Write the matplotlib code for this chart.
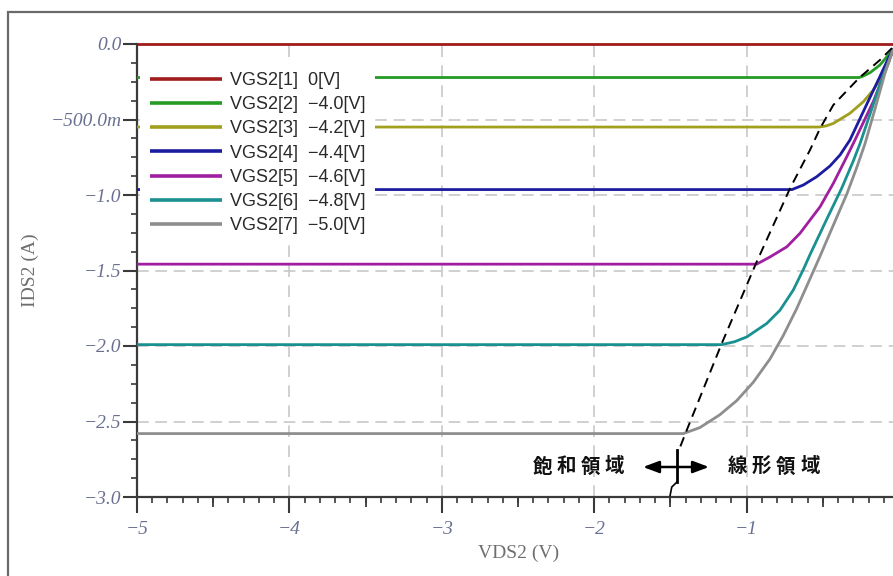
import numpy as np
import matplotlib
matplotlib.use('Agg')
import matplotlib.pyplot as plt
from matplotlib.ticker import MultipleLocator
from matplotlib.patches import Rectangle

# ---------------- data ----------------
labels = ["VGS2[1]  0[V]", "VGS2[2]  \u22124.0[V]", "VGS2[3]  \u22124.2[V]",
          "VGS2[4]  \u22124.4[V]", "VGS2[5]  \u22124.6[V]", "VGS2[6]  \u22124.8[V]",
          "VGS2[7]  \u22125.0[V]"]
colors = ["#a01c1c", "#259b25", "#a0a01e", "#1c1ca0", "#a01ea0", "#1a9090", "#8e8e8e"]

v1 = [-5.0, 0.0]
i1 = [0.0, 0.0]
v2 = [-5.0, -0.262, -0.234, -0.190, -0.125, -0.070, -0.040, 0.0]
i2 = [-0.222, -0.222, -0.212, -0.190, -0.139, -0.073, -0.040, 0.0]
v3 = [-5.0, -0.525, -0.480, -0.431, -0.322, -0.234, -0.169, -0.114, -0.070, -0.040, 0.0]
i3 = [-0.550, -0.550, -0.543, -0.526, -0.459, -0.382, -0.305, -0.217, -0.128, -0.040, 0.0]
v4 = [-5.0, -0.702, -0.628, -0.540, -0.453, -0.387, -0.322, -0.212, -0.125, -0.070, -0.040, 0.0]
i4 = [-0.964, -0.964, -0.934, -0.879, -0.808, -0.735, -0.636, -0.400, -0.215, -0.095, -0.040, 0.0]
v5 = [-5.0, -0.934, -0.846, -0.736, -0.650, -0.518, -0.431, -0.343, -0.289, -0.168, -0.102, -0.040, 0.0]
i5 = [-1.458, -1.458, -1.410, -1.343, -1.254, -1.078, -0.923, -0.747, -0.636, -0.380, -0.210, -0.040, 0.0]
v6 = [-5.0, -1.163, -1.080, -0.999, -0.868, -0.781, -0.694, -0.628, -0.584, -0.474, -0.376, -0.300,
      -0.256, -0.190, -0.125, -0.040, 0.0]
i6 = [-1.991, -1.991, -1.972, -1.940, -1.851, -1.763, -1.630, -1.494, -1.395, -1.160, -0.955, -0.775,
      -0.660, -0.464, -0.269, -0.040, 0.0]
v7 = [-5.0, -1.415, -1.306, -1.175, -1.065, -0.956, -0.846, -0.759, -0.671, -0.584, -0.518, -0.431,
      -0.343, -0.278, -0.223, -0.157, -0.092, -0.040, 0.0]
i7 = [-2.580, -2.580, -2.540, -2.455, -2.362, -2.240, -2.085, -1.930, -1.752, -1.555, -1.405, -1.200,
      -0.995, -0.820, -0.660, -0.428, -0.194, -0.040, 0.0]
series_v = [v1, v2, v3, v4, v5, v6, v7]
series_i = [i1, i2, i3, i4, i5, i6, i7]

# boundary between saturation / linear regions (dashed)
bound_v = [-0.046, -0.125, -0.262, -0.431, -0.518, -0.584, -0.715, -0.934, -1.163, -1.393, -1.437]
bound_i = [-0.027, -0.106, -0.225, -0.404, -0.559, -0.702, -0.956, -1.443, -1.983, -2.558, -2.671]
# small bracket mark at the bottom of the boundary
mark_v = [-1.459, -1.459]
mark_i = [-2.690, -2.903]
hook_v = [-1.459, -1.491, -1.502]
hook_i = [-2.903, -2.934, -2.990]

xticks = [-5, -4, -3, -2, -1, 0]
xticklabels = ["\u22125", "\u22124", "\u22123", "\u22122", "\u22121", "0"]
xmid_ticks = [-4.5, -3.5, -2.5, -1.5, -0.5]
yticks = [0.0, -0.5, -1.0, -1.5, -2.0, -2.5, -3.0]
yticklabels = ["0.0", "\u2212500.0m", "\u22121.0", "\u22121.5", "\u22122.0", "\u22122.5", "\u22123.0"]
xlabel = "VDS2 (V)"
ylabel = "IDS2 (A)"
left_text = "飽和領域"
right_text = "線形領域"

# ---------------- figure ----------------
W, H = 893, 576
fig = plt.figure(figsize=(W / 100, H / 100), dpi=100)
fig.patch.set_facecolor("white")

def fx(px):
    return px / W

def fy(py):
    return 1 - py / H

ax = fig.add_axes([fx(137), fy(497), fx(899) - fx(137), fy(44) - fy(497)])
ax.set_xlim(-5, 0)
ax.set_ylim(-3.0, 0.0)

# grid
for x in xticks[1:-1]:
    ax.axvline(x, color="#c8c8c8", lw=1.2, dashes=(7, 5), zorder=0)
for y in yticks[1:-1]:
    ax.axhline(y, color="#c8c8c8", lw=1.2, dashes=(7, 4), zorder=0)

handles = []
for v, i, c, lab in zip(series_v, series_i, colors, labels):
    ln, = ax.plot(v, i, color=c, lw=2.0, label=lab, clip_on=False, zorder=3,
                  solid_capstyle="butt", solid_joinstyle="round")
    handles.append(ln)

ax.plot(bound_v, bound_i, color="black", lw=1.4, dashes=(5, 3.2), zorder=4, clip_on=False)
ax.plot(mark_v, mark_i, color="black", lw=2.0, zorder=4, clip_on=False)
ax.plot(hook_v, hook_i, color="black", lw=1.2, zorder=4, clip_on=False)

# spines & ticks
for s in ["top", "right"]:
    ax.spines[s].set_visible(False)
for s in ["left", "bottom"]:
    ax.spines[s].set_color("#3a3a3a")
    ax.spines[s].set_linewidth(1.6)

tick_font = dict(family="Liberation Serif", style="italic", size=14, color="#6a7090")
ax.set_xticks(xticks)
ax.set_xticklabels(xticklabels, fontdict=tick_font)
ax.set_yticks(yticks)
ax.set_yticklabels(yticklabels, fontdict=tick_font)
ax.xaxis.set_minor_locator(MultipleLocator(0.1))
ax.yaxis.set_minor_locator(MultipleLocator(0.125))
ax.tick_params(axis="x", which="major", direction="out", length=11.5, width=1.5, color="#3a3a3a", pad=6)
ax.tick_params(axis="x", which="minor", direction="out", length=4.5, width=1.2, color="#3a3a3a")
ax.tick_params(axis="y", which="major", direction="out", length=10, width=1.5, color="#3a3a3a", pad=1)
ax.tick_params(axis="y", which="minor", direction="out", length=4, width=1.2, color="#3a3a3a")

sec = ax.secondary_xaxis("bottom")
sec.set_xticks(xmid_ticks)
sec.set_xticklabels([])
sec.tick_params(axis="x", which="major", direction="out", length=7.5, width=1.3, color="#3a3a3a")
sec.tick_params(axis="x", which="minor", length=0)
sec.spines["bottom"].set_visible(False)

label_font = dict(family="Liberation Serif", size=14, color="#6e6e6e")
fig.text(fx(519), fy(553), xlabel, ha="center", va="center", **label_font)
fig.text(fx(30), fy(270), ylabel, ha="center", va="center", rotation=90, **label_font)

# legend
leg = ax.legend(handles, labels, loc="upper left", bbox_to_anchor=(fx(140), fy(62)),
                bbox_transform=fig.transFigure, frameon=True, fancybox=False,
                facecolor="white", edgecolor="none", framealpha=1.0,
                borderpad=0.55, borderaxespad=0, handlelength=3.99, handletextpad=0.44,
                labelspacing=0.40, prop=dict(family="Liberation Sans", size=13))
for t in leg.get_texts():
    t.set_color("#2a2a2a")
for lh in leg.get_lines():
    lh.set_linewidth(2.6)
leg.set_zorder(5)

# region annotation
cjk = dict(family=["Noto Sans CJK JP", "DejaVu Sans"], size=14, color="#111111",
           ha="center", va="center", weight="bold")
for k, ch in enumerate(left_text):
    fig.text(fx(543 + 23.7 * k), fy(467), ch, **cjk)
for k, ch in enumerate(right_text):
    fig.text(fx(737 + 24.3 * k), fy(467), ch, **cjk)
ax.annotate("", xy=(fx(709), fy(467)), xytext=(fx(643), fy(467)),
            xycoords="figure fraction", textcoords="figure fraction",
            arrowprops=dict(arrowstyle="<|-|>,head_length=0.8,head_width=0.3",
                            color="black", lw=1.8, mutation_scale=12,
                            shrinkA=0, shrinkB=0))

# outer frame of the picture
fig.patches.append(Rectangle((fx(8), -0.1), 1.2, fy(12) + 0.1, transform=fig.transFigure,
                             fill=False, edgecolor="#6a6a6a", lw=1.6, zorder=0))

fig.savefig("out.png", dpi=100)
